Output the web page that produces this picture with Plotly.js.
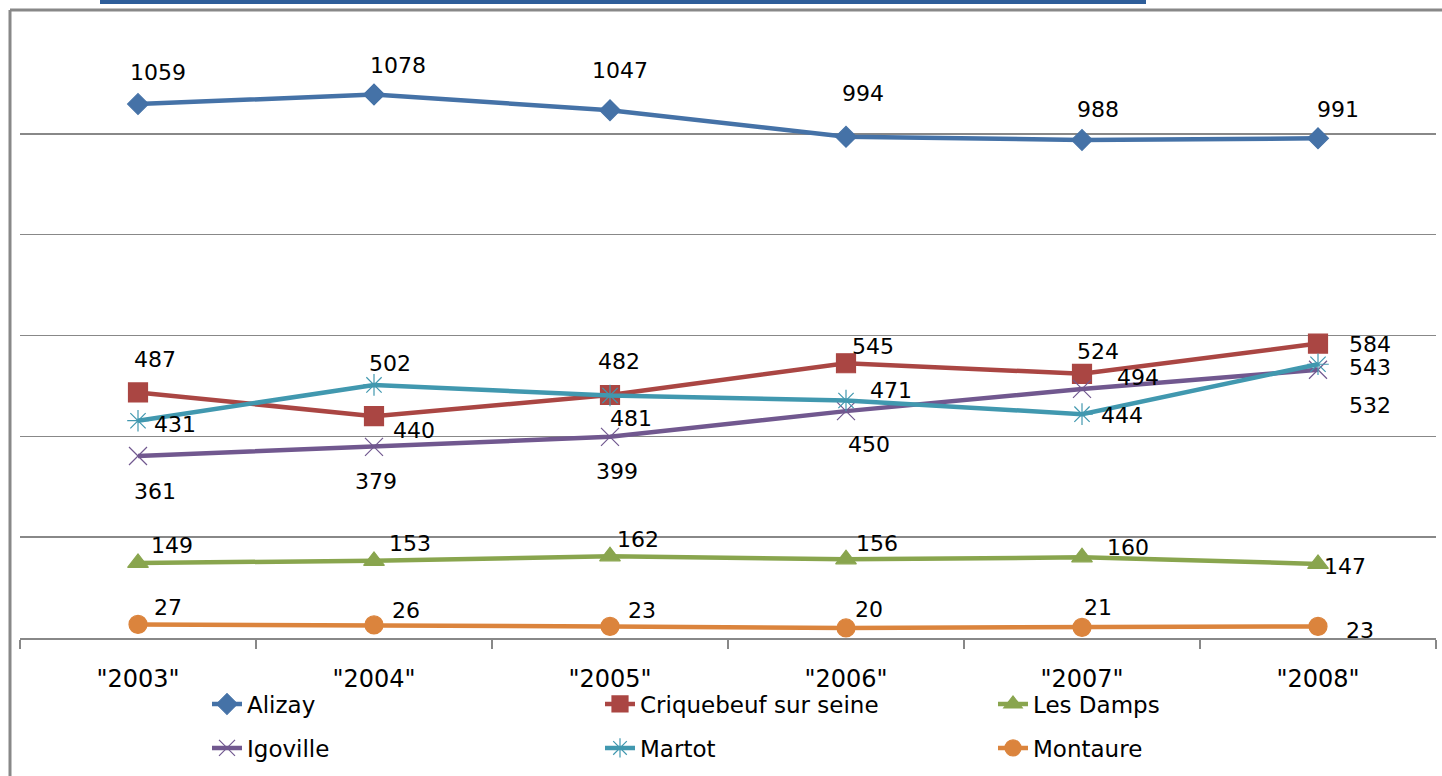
<!DOCTYPE html>
<html><head><meta charset="utf-8">
<script src="https://cdn.plot.ly/plotly-3.0.1.min.js"></script>
<style>html,body{margin:0;padding:0;background:#fff;}#chart{width:1442px;height:776px;}</style>
</head><body><div id="chart"></div>
<script>
const years = ['"2003"', '"2004"', '"2005"', '"2006"', '"2007"', '"2008"'];
const alizay = [1059, 1078, 1047, 994, 988, 991];
const criquebeuf = [487, 440, 482, 545, 524, 584];
const lesDamps = [149, 153, 162, 156, 160, 147];
const igoville = [361, 379, 399, 450, 494, 532];
const martot = [431, 502, 481, 471, 444, 543];
const montaure = [27, 26, 23, 20, 21, 23];

// label offsets in pixels (dx right, dy down) - styling only
const offA = [[20,-32],[24,-29],[10,-40],[17,-43],[16,-30],[20,-29]];
const offC = [[17,-33],[40,14],[9,-33],[27,-17],[16,-22],[52,1]];
const offM = [[37,4],[16,-21],[21,23],[45,-10],[40,1],[52,3]];
const offI = [[17,35],[2,35],[7,35],[23,33],[56,-11],[52,36]];
const offD = [[34,-17],[36,-17],[28,-17],[31,-16],[46,-10],[27,3]];
const offO = [[30,-17],[32,-14],[32,-16],[23,-18],[16,-20],[42,4]];

const series = [
  {name:'Alizay', y:alizay, color:'#4572A7', symbol:'diamond', size:16, off:offA, legend:'legend'},
  {name:'Criquebeuf sur seine', y:criquebeuf, color:'#AA4643', symbol:'square', size:19, off:offC, legend:'legend'},
  {name:'Les Damps', y:lesDamps, color:'#89A54E', symbol:'triangle-up', size:18, off:offD, legend:'legend'},
  {name:'Igoville', y:igoville, color:'#71588F', symbol:'x-thin-open', size:18, off:offI, legend:'legend2'},
  {name:'Martot', y:martot, color:'#4198AF', symbol:'asterisk-open', size:18, off:offM, legend:'legend2'},
  {name:'Montaure', y:montaure, color:'#DB843D', symbol:'circle', size:18, off:offO, legend:'legend2'}
];

const traces = series.map(s => ({
  type:'scatter', mode:'lines+markers', name:s.name, x:years, y:s.y,
  legend:s.legend,
  line:{color:s.color, width:4.5},
  marker:{symbol:s.symbol, size:s.size, color:s.color, line:{color:s.color, width:1.2}},
  hoverinfo:'x+y+name'
}));

const annotations = [];
series.forEach(s => {
  s.y.forEach((v,i) => {
    annotations.push({x:years[i], y:v, xref:'x', yref:'y', text:String(v), showarrow:false,
      xshift:s.off[i][0], yshift:-s.off[i][1],
      font:{family:'DejaVu Sans', size:22, color:'#000'}});
  });
});

const plotL = 20, plotW = 1416, plotT = 33, plotH = 605;
function px(x){return (x-plotL)/plotW;}
function py(y){return (plotT+plotH-y)/plotH;}
const W = 1442, H = 776;

const legendCommon = {orientation:'h', xref:'container', yref:'container', xanchor:'left', yanchor:'middle',
  entrywidth:348, entrywidthmode:'pixels', traceorder:'normal',
  font:{family:'DejaVu Sans', size:23, color:'#000'}, bgcolor:'rgba(0,0,0,0)', borderwidth:0};

const layout = {
  width:W, height:H,
  margin:{l:20, r:6, t:33, b:138},
  paper_bgcolor:'#fff', plot_bgcolor:'#fff',
  showlegend:true,
  xaxis:{type:'category', range:[-0.5, 5.5], autorange:false, showline:true, linecolor:'#888', linewidth:1.5,
    ticks:'outside', tickson:'boundaries', ticklen:9, tickcolor:'#888', tickwidth:1.5,
    ticklabelstandoff:19, showgrid:false, zeroline:false,
    tickfont:{family:'DejaVu Sans', size:24, color:'#000'}},
  yaxis:{range:[0,1200], dtick:200, showticklabels:false, showgrid:true,
    gridcolor:'#888', gridwidth:1.5, zeroline:false, showline:false, ticks:''},
  legend:Object.assign({}, legendCommon, {x:207/W, y:1-704/H}),
  legend2:Object.assign({}, legendCommon, {x:207/W, y:1-748/H}),
  annotations:annotations,
  shapes:[
    {type:'line', xref:'paper', yref:'paper', x0:px(10), x1:px(1442), y0:py(10), y1:py(10), line:{color:'#888', width:3}},
    {type:'line', xref:'paper', yref:'paper', x0:px(10), x1:px(10), y0:py(10), y1:py(776), line:{color:'#888', width:3}},
    {type:'line', xref:'paper', yref:'paper', x0:px(100), x1:px(1146), y0:py(2), y1:py(2), line:{color:'#2E5E9A', width:4}}
  ]
};

Plotly.newPlot('chart', traces, layout, {displayModeBar:false, staticPlot:true});
</script></body></html>
